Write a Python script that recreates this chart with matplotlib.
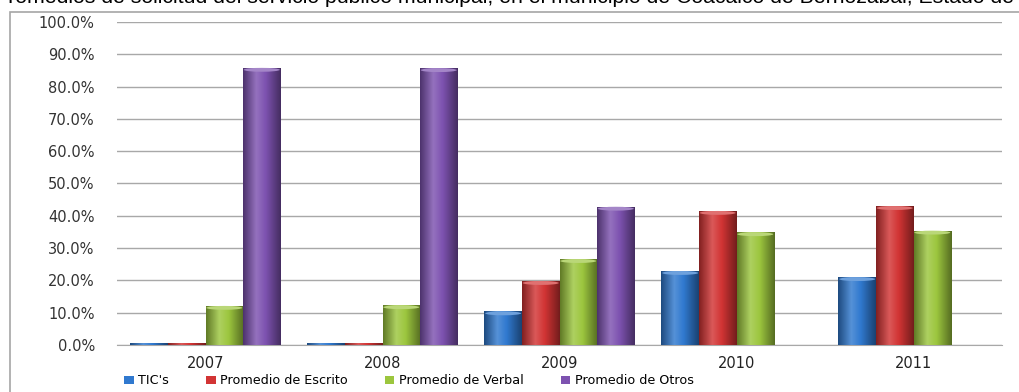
import numpy as np
import matplotlib.pyplot as plt
from matplotlib.colors import LinearSegmentedColormap, to_rgb
from matplotlib.patches import Rectangle, Ellipse

years = ['2007', '2008', '2009', '2010', '2011']
series = ["TIC's", 'Promedio de Escrito', 'Promedio de Verbal', 'Promedio de Otros']
tics = [0.5, 0.5, 10.4, 22.9, 21.0]
escrito = [0.5, 0.5, 19.8, 41.5, 43.0]
verbal = [12.1, 12.3, 26.6, 34.9, 35.4]
otros = [85.8, 85.7, 42.8, 0.0, 0.0]
colors = ['#3079cf', '#d23434', '#9cc63e', '#7d52b0']
title = ('Promedios de solicitud del servicio público municipal, en el municipio '
         'de Coacalco de Berriozábal, Estado de México')

values = [tics, escrito, verbal, otros]


def shade(color, f):
    r, g, b = to_rgb(color)
    if f >= 1:
        return tuple(c + (1 - c) * (f - 1) for c in (r, g, b))
    return (r * f, g * f, b * f)


def cyl_cmap(color):
    # dark edges, light stripe left of centre: cylinder look
    stops = [(0.0, shade(color, 0.62)), (0.35, shade(color, 1.18)),
             (0.6, shade(color, 1.0)), (1.0, shade(color, 0.55))]
    return LinearSegmentedColormap.from_list('c', stops)


fig = plt.figure(figsize=(10.2, 3.92), dpi=100)
ax = fig.add_axes([117 / 1020, 47 / 392, 885 / 1020, 323 / 392])

# chart frame, partly outside the canvas
fig.patches.append(Rectangle((10 / 1020, -0.1), 1.2, 1 - 12 / 392 + 0.1,
                             transform=fig.transFigure, fill=False,
                             edgecolor='#a6a6a6', linewidth=1.2))

x = np.arange(len(years))
width = 0.212
grad = np.linspace(0, 1, 64).reshape(1, -1)
handles = []
for i, (name, vals, col) in enumerate(zip(series, values, colors)):
    pos = x + (i - 1.5) * width
    bars = ax.bar(pos, vals, width, color=col, edgecolor='none', label=name, zorder=2)
    cmap = cyl_cmap(col)
    for b, v in zip(bars, vals):
        if v <= 0:
            continue
        x0 = b.get_x()
        im = ax.imshow(grad, cmap=cmap, aspect='auto', zorder=3,
                       extent=(x0, x0 + width, 0, v), interpolation='bilinear')
        im.set_clip_path(b)
        if v > 2:
            ax.add_patch(Ellipse((x0 + width / 2, v - 0.6), width * 0.96, 1.2,
                                 facecolor=shade(col, 1.3), edgecolor='none', zorder=4))
    handles.append(bars)

ax.set_xlim(-0.5, len(years) - 0.5)
ax.set_ylim(0, 100)
ax.set_yticks(np.arange(0, 101, 10))
ax.set_yticklabels([f'{t:.1f}%' for t in range(0, 101, 10)])
ax.set_xticks(x)
ax.set_xticklabels(years)
ax.yaxis.grid(True, color='#a8a8a8', linewidth=1.0, zorder=0)
ax.set_axisbelow(True)
for s in ['top', 'right', 'left']:
    ax.spines[s].set_visible(False)
ax.spines['bottom'].set_color('#a8a8a8')
ax.tick_params(axis='y', length=0, pad=16, labelsize=10.5, labelcolor='#333333')
ax.tick_params(axis='x', length=0, pad=8, labelsize=10.5, labelcolor='#222222')

ax.legend(handles=handles, labels=series, loc='center left', ncol=4,
          bbox_to_anchor=(124 / 1020, 11 / 392), bbox_transform=fig.transFigure,
          frameon=False, fontsize=9.2, handlelength=0.75, handleheight=0.6,
          handletextpad=0.35, columnspacing=2.9, borderaxespad=0, borderpad=0)

fig.text(-6 / 1020, 1 - 3 / 392, title, family='Liberation Sans', fontsize=15.3,
         ha='left', va='baseline', color='black')

fig.savefig('out.png', dpi=100, facecolor='white')
